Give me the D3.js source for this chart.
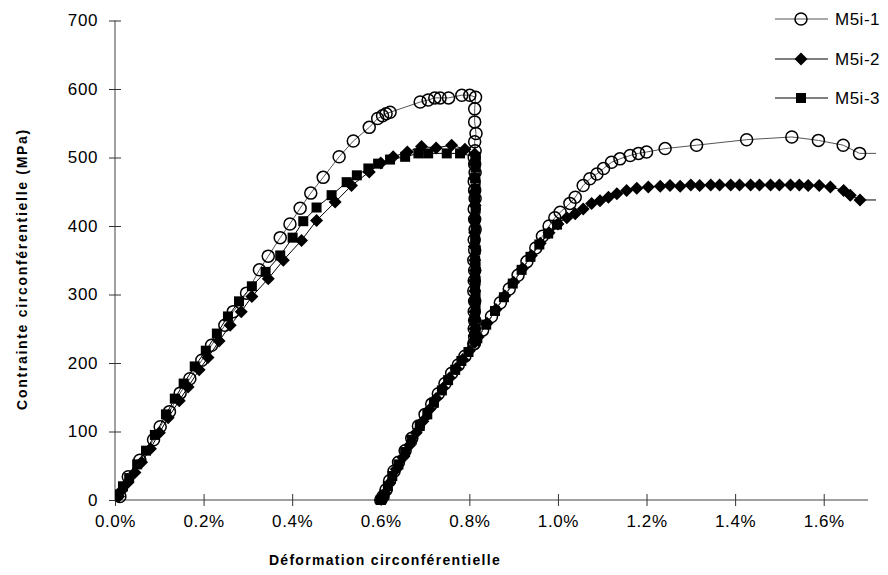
<!DOCTYPE html>
<html><head><meta charset="utf-8">
<script src="https://cdn.jsdelivr.net/npm/d3@7"></script>
<style>body{margin:0;background:#fff;}svg{display:block;}</style>
</head><body>
<svg id="c" width="888" height="575"></svg>
<script>
// strain (%) , stress (MPa)
const seriesNames = ["M5i-1", "M5i-2", "M5i-3"];
const xTicks = [0, 0.2, 0.4, 0.6, 0.8, 1.0, 1.2, 1.4, 1.6];
const yTicks = [0, 100, 200, 300, 400, 500, 600, 700];

const s1Load = [[0.011,5],[0.030,34],[0.056,58],[0.087,88],[0.102,107],[0.123,129],[0.147,156],[0.169,177],[0.196,204],[0.218,226],[0.248,255],[0.267,275],[0.297,302],[0.326,336],[0.346,356],[0.373,383],[0.395,403],[0.418,426],[0.442,448],[0.470,471],[0.506,501],[0.538,524],[0.574,544],[0.593,557],[0.604,561],[0.612,564],[0.621,566],[0.689,581],[0.707,584],[0.722,587],[0.734,587],[0.753,587],[0.783,591],[0.801,591],[0.814,588],
 [0.812,571],[0.812,552],[0.815,535],[0.812,523],[0.813,510],[0.811,500],[0.812,490],[0.813,478],[0.811,465],[0.812,452],[0.813,440],[0.811,425],[0.812,410],[0.813,395],[0.811,380],[0.812,365],[0.810,350],[0.812,335],[0.811,320],[0.810,305],[0.812,290],[0.811,275],[0.812,262],[0.811,250],[0.812,238],[0.811,228]];
const s1Reload = [[0.600,0],[0.605,5],[0.612,15],[0.620,28],[0.630,42],[0.640,55],[0.655,72],[0.670,90],[0.685,108],[0.700,125],[0.715,140],[0.730,155],[0.745,170],[0.760,185],[0.775,197],[0.790,210],[0.810,228],[0.830,248],[0.850,268],[0.870,288],[0.890,308],[0.910,328],[0.930,348],[0.950,368],[0.965,385],[0.980,400],[0.993,412],[1.005,420],[1.027,433],[1.039,442],[1.057,459],[1.072,469],[1.088,476],[1.103,484],[1.121,493],[1.140,498],[1.163,503],[1.182,506],[1.200,508],[1.242,513],[1.313,518],[1.426,526],[1.528,530],[1.588,525],[1.644,518],[1.681,506],[1.720,506]];

const s2Load = [[0.008,5],[0.015,14],[0.028,25],[0.045,40],[0.060,55],[0.080,75],[0.100,98],[0.120,120],[0.145,145],[0.165,165],[0.190,190],[0.210,208],[0.235,232],[0.260,255],[0.285,275],[0.309,297],[0.346,323],[0.380,350],[0.421,379],[0.455,408],[0.497,435],[0.534,459],[0.574,479],[0.600,492],[0.628,501],[0.660,508],[0.692,516],[0.725,514],[0.760,518],[0.790,512],[0.812,505],
 [0.812,490],[0.811,470],[0.812,450],[0.813,430],[0.811,410],[0.812,390],[0.811,370],[0.812,350],[0.813,335],[0.811,320],[0.812,305],[0.811,290],[0.812,275],[0.811,262],[0.812,250],[0.811,240],[0.812,230]];
const s2Reload = [[0.600,0],[0.610,10],[0.620,25],[0.635,45],[0.650,62],[0.665,80],[0.680,98],[0.695,115],[0.710,132],[0.725,148],[0.740,163],[0.755,178],[0.770,192],[0.785,205],[0.800,218],[0.820,238],[0.840,258],[0.860,278],[0.880,298],[0.900,318],[0.920,338],[0.940,357],[0.960,375],[0.980,390],[1.000,403],[1.020,412],[1.039,418],[1.057,425],[1.076,433],[1.095,437],[1.114,442],[1.133,447],[1.155,452],[1.178,455],[1.204,457],[1.231,458],[1.253,459],[1.276,458],[1.300,460],[1.320,459],[1.345,460],[1.365,460],[1.390,460],[1.410,460],[1.435,460],[1.455,460],[1.480,460],[1.500,460],[1.525,460],[1.545,460],[1.565,459],[1.590,459],[1.615,457],[1.645,452],[1.660,445],[1.682,438],[1.720,438]];

const s3Load = [[0.006,8],[0.018,20],[0.032,32],[0.050,52],[0.070,72],[0.090,95],[0.115,125],[0.135,148],[0.155,170],[0.180,195],[0.205,218],[0.230,243],[0.255,268],[0.280,290],[0.309,312],[0.340,333],[0.373,357],[0.401,383],[0.425,407],[0.455,427],[0.489,445],[0.523,464],[0.546,474],[0.572,484],[0.594,491],[0.621,497],[0.655,501],[0.685,506],[0.707,506],[0.749,506],[0.779,506],[0.814,501],
 [0.814,495],[0.814,485],[0.813,470],[0.814,455],[0.813,440],[0.814,425],[0.813,410],[0.814,395],[0.813,380],[0.814,365],[0.813,350],[0.814,340],[0.813,330],[0.814,320],[0.813,310],[0.814,300],[0.813,290],[0.814,280],[0.813,265],[0.814,250],[0.813,240],[0.814,232]];
const s3Reload = [[0.600,0],[0.608,8],[0.616,20],[0.626,35],[0.640,52],[0.655,70],[0.670,88],[0.688,108],[0.705,125],[0.720,142],[0.738,160],[0.752,175],[0.768,190],[0.782,203],[0.798,216],[0.818,236],[0.838,256],[0.858,276],[0.878,296],[0.898,316],[0.918,336],[0.938,355],[0.958,373],[0.978,389],[0.998,402]];

const svg = d3.select("#c");
const x = d3.scaleLinear().domain([0, 1.7]).range([115, 868]);
const y = d3.scaleLinear().domain([0, 700]).range([500, 20.5]);
const FONT = "Arial, 'Liberation Sans', sans-serif";

svg.append("defs").append("clipPath").attr("id","clip")
  .append("rect").attr("x",115).attr("y",10).attr("width",876-115).attr("height",495);

const axisColor = "#808080";
const xa = svg.append("g").attr("transform","translate(0,500)")
  .call(d3.axisBottom(x).tickValues(xTicks).tickSize(6).tickFormat(d => d.toFixed(1) + "%"));
xa.select(".domain").attr("stroke",axisColor).attr("stroke-width",1.5).attr("d","M115,0H868");
xa.selectAll(".tick line").attr("stroke","#333").attr("y1",-6).attr("y2",6).attr("stroke-width",1);
xa.selectAll(".tick text").attr("y",15).attr("font-family",FONT).attr("font-size",17).attr("letter-spacing","0.6px").attr("fill","#000");

const ya = svg.append("g").attr("transform","translate(115,0)")
  .call(d3.axisLeft(y).tickValues(yTicks).tickSize(6));
ya.select(".domain").attr("stroke",axisColor).attr("stroke-width",1.5).attr("d","M0,500V20.5");
ya.selectAll(".tick line").attr("stroke","#333").attr("x1",-6).attr("x2",6).attr("stroke-width",1);
ya.selectAll(".tick text").attr("x",-17).attr("font-family",FONT).attr("font-size",17).attr("letter-spacing","0.6px").attr("fill","#000");

svg.append("text").attr("x",385).attr("y",565).attr("text-anchor","middle")
  .attr("font-family",FONT).attr("font-size",14).attr("font-weight","bold")
  .attr("letter-spacing","1.3px").text("Déformation circonférentielle");
svg.append("text").attr("transform","translate(27,269) rotate(-90)").attr("text-anchor","middle")
  .attr("font-family",FONT).attr("font-size",14).attr("font-weight","bold")
  .attr("letter-spacing","1.7px").text("Contrainte circonférentielle (MPa)");

const line = d3.line().x(d => x(d[0])).y(d => y(d[1]));
const plot = svg.append("g").attr("clip-path","url(#clip)");

const series = [
  {segs:[s1Load, s1Reload], sym:"circle", color:"#555"},
  {segs:[s2Load, s2Reload], sym:"diamond", color:"#000"},
  {segs:[s3Load, s3Reload], sym:"square", color:"#000"}
];

function drawMarker(g, sym, cx, cy) {
  if (sym === "circle") {
    g.append("circle").attr("cx",cx).attr("cy",cy).attr("r",6).attr("fill","none").attr("stroke","#000").attr("stroke-width",1.5);
  } else if (sym === "diamond") {
    const r = 6.5;
    g.append("path").attr("d",`M${cx},${cy-r}L${cx+r},${cy}L${cx},${cy+r}L${cx-r},${cy}Z`).attr("fill","#000");
  } else {
    const r = 5;
    g.append("rect").attr("x",cx-r).attr("y",cy-r).attr("width",2*r).attr("height",2*r).attr("fill","#000");
  }
}

[2,1,0].forEach(i => {
  const s = series[i];
  s.segs.forEach(seg => {
    plot.append("path").datum(seg).attr("d",line).attr("fill","none").attr("stroke",s.color).attr("stroke-width",1);
  });
});
[2,1,0].forEach(i => {
  const s = series[i];
  const g = plot.append("g");
  s.segs.forEach(seg => {
    seg.forEach(d => { if (d[0] <= 1.7) drawMarker(g, s.sym, x(d[0]), y(d[1])); });
  });
});

const legY = [19, 59, 98];
series.forEach((s, i) => {
  const g = svg.append("g");
  g.append("line").attr("x1",775).attr("x2",828).attr("y1",legY[i]).attr("y2",legY[i]).attr("stroke",s.color).attr("stroke-width",1);
  drawMarker(g, s.sym, 801, legY[i]);
  g.append("text").attr("x",835).attr("y",legY[i]+6).attr("font-family",FONT).attr("font-size",17).attr("letter-spacing","0.5px").text(seriesNames[i]);
});
</script>
</body></html>
